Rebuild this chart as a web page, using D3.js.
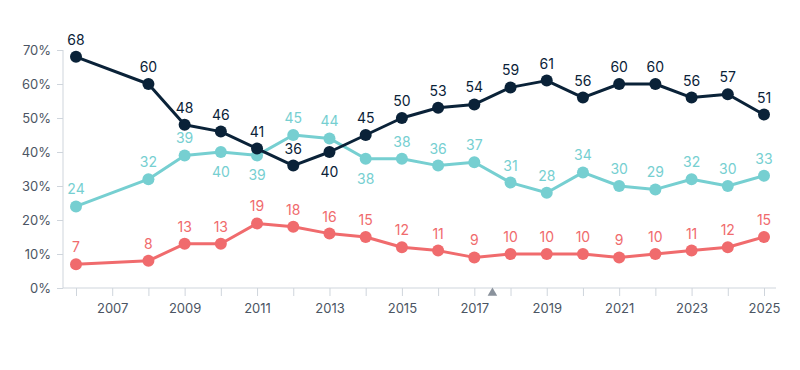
<!DOCTYPE html>
<html><head><meta charset="utf-8">
<script src="https://cdn.jsdelivr.net/npm/d3@7"></script>
<style>body{margin:0;background:#fff}svg{display:block}</style>
</head><body><svg id="c" width="800" height="370"></svg>
<script>
const years = [2006,2008,2009,2010,2011,2012,2013,2014,2015,2016,2017,2018,2019,2020,2021,2022,2023,2024,2025];
const seriesDark = [68,60,48,46,41,36,40,45,50,53,54,59,61,56,60,60,56,57,51];
const seriesTeal = [24,32,39,40,39,45,44,38,38,36,37,31,28,34,30,29,32,30,33];
const seriesRed  = [7,8,13,13,19,18,16,15,12,11,9,10,10,10,9,10,11,12,15];
const yTicks = [0,10,20,30,40,50,60,70];
const xTickLabels = [2007,2009,2011,2013,2015,2017,2019,2021,2023,2025];
const darkBelow = [2013];
const tealBelow = [2010,2011,2014];
const markerYear = 2017.5;

const svg = d3.select("#c");
const font = "Inter, 'Noto Sans', sans-serif";
const x = d3.scaleLinear().domain([2006,2025]).range([76,764]);
const y = d3.scaleLinear().domain([0,70]).range([288,50]);

// y axis
const yAxis = d3.axisLeft(y).tickValues(yTicks).tickFormat(d=>d+"%").tickSize(6).tickPadding(6);
const gy = svg.append("g").attr("transform","translate(63,0)").call(yAxis);
gy.select(".domain").attr("stroke","#cfd5dc").attr("d","M0,"+y(70)+"V"+y(0));
gy.selectAll(".tick line").attr("stroke","#cfd5dc");
gy.selectAll("text").attr("fill","#4b5563").style("font-family",font).style("font-size","13px");

// x axis
const gx = svg.append("g").attr("transform","translate(0,288)")
  .call(d3.axisBottom(x).tickValues(d3.range(2006,2026)).tickFormat(d=>xTickLabels.includes(d)?d:"").tickSize(8).tickPadding(8));
gx.select(".domain").attr("stroke","#cfd5dc").attr("d","M63,0H776");
gx.selectAll(".tick line").attr("stroke","#cfd5dc");
gx.selectAll("text").attr("fill","#4b5563").style("font-family",font).style("font-size","13px");

// marker triangle
svg.append("path").attr("d",d3.symbol(d3.symbolTriangle,40)()).attr("transform",`translate(${x(markerYear)},${293})`).attr("fill","#8a929c");

function drawSeries(vals,color,below){
  const data = years.map((yr,i)=>({yr,v:vals[i]}));
  svg.append("path").datum(data).attr("fill","none").attr("stroke",color).attr("stroke-width",3)
    .attr("stroke-linejoin","round")
    .attr("d",d3.line().x(d=>x(d.yr)).y(d=>y(d.v)));
  svg.append("g").selectAll("circle").data(data).join("circle")
    .attr("cx",d=>x(d.yr)).attr("cy",d=>y(d.v)).attr("r",6).attr("fill",color);
  svg.append("g").selectAll("text").data(data).join("text")
    .attr("x",d=>x(d.yr)).attr("y",d=>y(d.v)+(below.includes(d.yr)?25:-12))
    .attr("text-anchor","middle").attr("fill",color)
    .style("font-family",font).style("font-size","14px").text(d=>d.v);
}
drawSeries(seriesRed,"#f06b6d",[]);
drawSeries(seriesTeal,"#76cfd1",tealBelow);
drawSeries(seriesDark,"#0a2238",darkBelow);
</script></body></html>
